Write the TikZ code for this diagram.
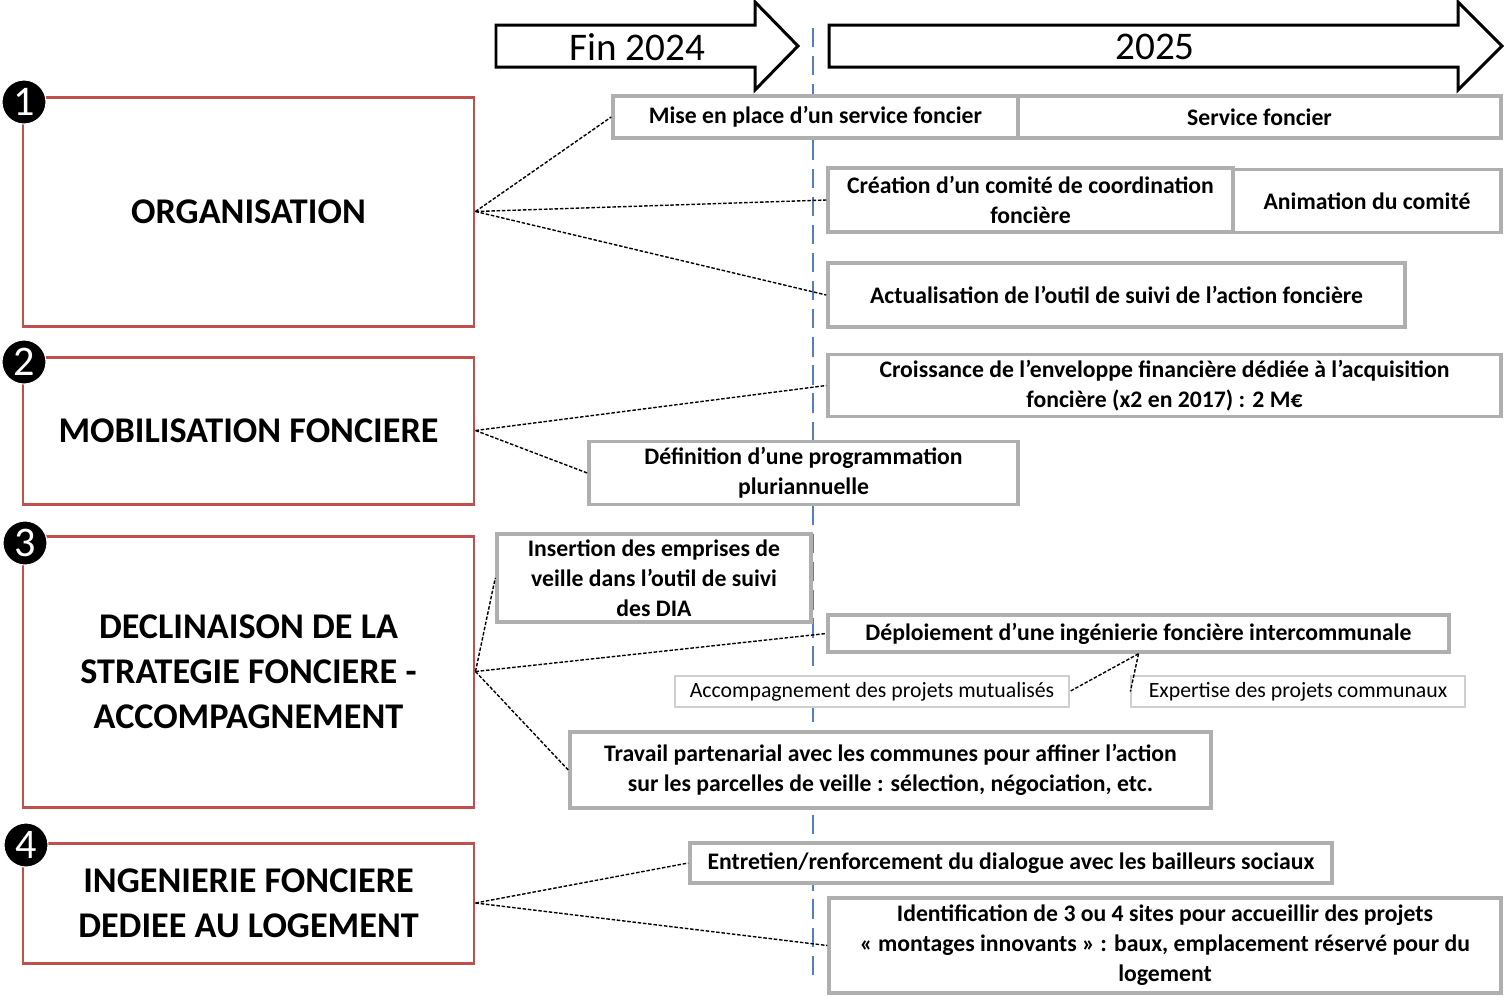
\documentclass[tikz,border=0pt]{standalone}
\usepackage{fontspec}
\setmainfont{Carlito}
\definecolor{secred}{RGB}{192,80,77}
\definecolor{boxgray}{RGB}{175,175,175}
\definecolor{lineblue}{RGB}{79,129,189}
\tikzset{
  secbox/.style={rectangle, draw=secred, line width=1.7pt, font=\fontsize{20.6}{25.5}\selectfont\bfseries, align=center},
  numdot/.style={circle, fill=black, draw=white, line width=0.6pt, minimum size=0.88cm, inner sep=0pt, text=white, font=\fontsize{24}{24}\selectfont},
  actbox/.style={rectangle, draw=boxgray, line width=2pt, fill=white, font=\fontsize{13.5}{17}\selectfont\bfseries, align=center},
  subbox/.style={rectangle, draw=boxgray!60, line width=0.7pt, fill=white, font=\fontsize{12.4}{14}\selectfont, align=center},
  link/.style={dash pattern=on 2pt off 1pt, line width=0.8pt},
  yearline/.style={draw=lineblue, line width=1.2pt, dash pattern=on 11pt off 5pt},
  timearrow/.style={draw=black, line width=1.7pt, fill=white, line join=miter},
  yeartext/.style={font=\fontsize{22.3}{22.3}\selectfont},
}
\newcommand{\secbox}[5] {\node at (#1) (#2) [secbox, minimum width=#3*0.02cm, minimum height=#4*0.02cm] {#5};}
\newcommand{\actbox}[5] {\node at (#1) (#2) [actbox, minimum width=#3*0.02cm, minimum height=#4*0.02cm] {#5};}
\newcommand{\subbox}[5] {\node at (#1) (#2) [subbox, minimum width=#3*0.02cm, minimum height=#4*0.02cm] {#5};}
\newcommand{\numdot}[3] {\node at (#1) (#2) [numdot] {#3};}
\newcommand{\linkto}[2] {\draw [link] (#1) -- (#2);}

\begin{document}
\begin{tikzpicture}[x=0.02cm, y=-0.02cm]
\useasboundingbox (0,0) rectangle (1505,995);

% time line
\draw [timearrow] (496,25) -- (755,25) -- (755,2) -- (798,46) -- (755,90) -- (755,67) -- (496,67) -- cycle;
\draw [timearrow] (829,25) -- (1458,25) -- (1458,2) -- (1502,46) -- (1458,90) -- (1458,67) -- (829,67) -- cycle;
\node at (637,47) (fin) [yeartext] {Fin 2024};
\node at (1155,47) (year) [yeartext] {2025};
\coordinate (cut1) at (813,28);
\coordinate (cut2) at (813,975);
\draw [yearline] (cut1) -- (cut2);

% sections
\secbox {248.5,211.5}{orga}{451}{229}{ORGANISATION}
\secbox {248.5,430.5}{mobil}{451}{147}{MOBILISATION FONCIERE}
\secbox {248.5,671.5}{declin}{451}{271}{DECLINAISON DE LA\\STRATEGIE FONCIERE -\\ACCOMPAGNEMENT}
\secbox {248.5,903}{inge}{451}{120}{INGENIERIE FONCIERE\\DEDIEE AU LOGEMENT}
\numdot {24,102}{n1}{1}
\numdot {24,362}{n2}{2}
\numdot {25,543}{n3}{3}
\numdot {26,845}{n4}{4}

% actions
\actbox {815.5,117}{mise}{405}{42}{Mise en place d’un service foncier}
\actbox {1259.5,117}{servf}{483}{42}{Service foncier}
\actbox {1030.5,200}{creat}{405}{64}{Création d’un comité de coordination\\foncière}
\actbox {1367,201}{anim}{268}{63}{Animation du comité}
\actbox {1116.5,295}{actual}{577}{64}{Actualisation de l’outil de suivi de l’action foncière}
\actbox {1164.5,385.5}{croiss}{673}{57}{Croissance de l’enveloppe financière dédiée à l’acquisition\\foncière (x2 en 2017) : 2 M€}
\actbox {803.5,473}{defin}{429}{62}{Définition d’une programmation\\pluriannuelle}
\actbox {654,578}{insert}{314}{86}{Insertion des emprises de\\veille dans l’outil de suivi\\des DIA}
\actbox {1138.5,633.5}{deploi}{621}{37}{Déploiement d’une ingénierie foncière intercommunale}
\subbox {872,691.5}{accomp}{394}{31}{Accompagnement des projets mutualisés}
\subbox {1298,691.5}{expert}{334}{31}{Expertise des projets communaux}
\actbox {890.5,770}{travail}{641}{76}{Travail partenarial avec les communes pour affiner l’action\\sur les parcelles de veille : sélection, négociation, etc.}
\actbox {1011,863}{entret}{642}{40}{Entretien/renforcement du dialogue avec les bailleurs sociaux}
\actbox {1165,945.5}{ident}{672}{95}{Identification de 3 ou 4 sites pour accueillir des projets\\« montages innovants » : baux, emplacement réservé pour du\\logement}

% links
\linkto {orga.east}{mise.west}
\linkto {orga.east}{creat.west}
\linkto {orga.east}{actual.west}
\linkto {mobil.east}{croiss.west}
\linkto {mobil.east}{defin.west}
\linkto {declin.east}{insert.west}
\linkto {declin.east}{deploi.west}
\linkto {declin.east}{travail.west}
\linkto {deploi.south}{accomp.east}
\linkto {deploi.south}{expert.west}
\linkto {inge.east}{entret.west}
\linkto {inge.east}{ident.west}
\end{tikzpicture}
\end{document}
